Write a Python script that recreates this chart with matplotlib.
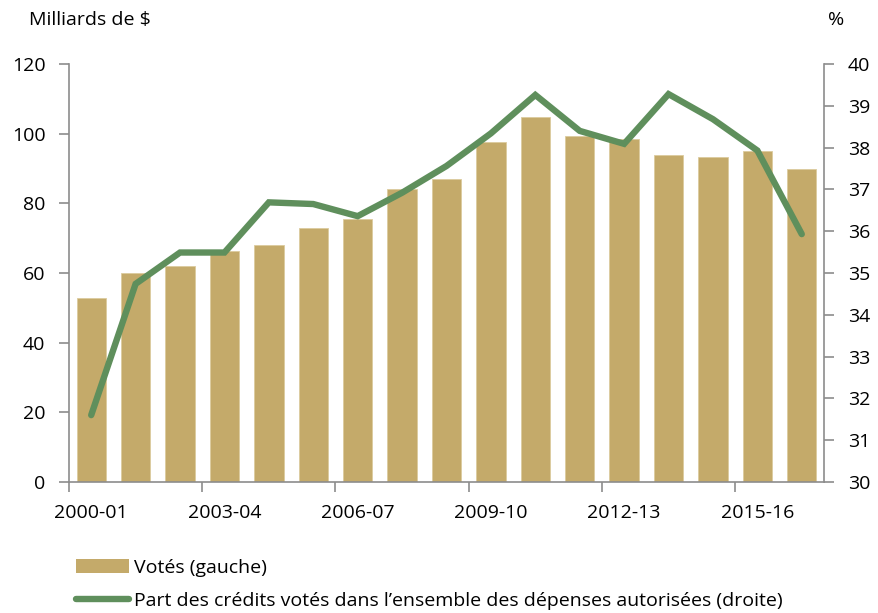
import matplotlib
matplotlib.use("Agg")
import matplotlib.pyplot as plt
import numpy as np
from matplotlib.patches import Patch
from matplotlib.lines import Line2D

years = ["2000-01", "2001-02", "2002-03", "2003-04", "2004-05", "2005-06", "2006-07",
         "2007-08", "2008-09", "2009-10", "2010-11", "2011-12", "2012-13", "2013-14",
         "2014-15", "2015-16", "2016-17"]
votes = [52.7, 59.9, 62.0, 66.3, 67.9, 72.9, 75.6, 84.2, 86.9, 97.6, 104.7, 99.3,
         98.6, 93.8, 93.3, 94.9, 89.8]
share = [31.6, 34.74, 35.49, 35.49, 36.69, 36.65, 36.36, 36.92, 37.56, 38.34, 39.26,
         38.40, 38.09, 39.28, 38.68, 37.93, 35.93]

bar_color = "#C4AA6A"
line_color = "#5F8F5C"
axis_color = "#8C8C8C"
fs = 14
plt.rcParams['font.family'] = ['Open Sans', 'DejaVu Sans']

fig = plt.figure(figsize=(8.79, 6.13), dpi=100)
ax = fig.add_axes([0.0785, 0.2137, 0.8589, 0.6819])
x = np.arange(len(years))
ax.bar(x, votes, width=0.66, color=bar_color, edgecolor="#DCCB9E", linewidth=0.6, zorder=2)
ax.set_xlim(-0.5, len(years) - 0.5)
ax.set_ylim(0, 120)
ax.set_yticks(np.arange(0, 121, 20))
ax.set_xticks(x[::3])
ax.set_xticklabels([years[i] for i in range(0, len(years), 3)])
ax.set_xticks(np.arange(-0.5, len(years), 3), minor=True)
ax.tick_params(axis='x', which='major', length=0, pad=15.5, labelsize=fs)
ax.tick_params(axis='x', which='minor', length=7, color=axis_color, width=1.2, direction='out')
ax.tick_params(axis='y', length=7, color=axis_color, width=1.2, direction='out', labelsize=fs, pad=10)
for s in ['top', 'right']:
    ax.spines[s].set_visible(False)
for s in ['left', 'bottom']:
    ax.spines[s].set_color(axis_color)
    ax.spines[s].set_linewidth(1.2)

ax2 = ax.twinx()
ax2.plot(x, share, color=line_color, linewidth=4.6, solid_capstyle='round', solid_joinstyle='miter', zorder=3)
ax2.set_ylim(30, 40)
ax2.set_yticks(np.arange(30, 41, 1))
ax2.tick_params(axis='y', length=7, color=axis_color, width=1.2, direction='out', labelsize=fs, pad=10)
for s in ['top', 'left', 'bottom']:
    ax2.spines[s].set_visible(False)
ax2.spines['right'].set_color(axis_color)
ax2.spines['right'].set_linewidth(1.2)

fig.text(29 / 879, 1 - 20 / 613, "Milliards de $", fontsize=fs, va='center', ha='left')
fig.text(836 / 879, 1 - 20 / 613, "%", fontsize=fs, va='center', ha='center')

handles = [Patch(facecolor=bar_color, edgecolor='none'),
           Line2D([0], [0], color=line_color, linewidth=4.6, solid_capstyle='round')]
labels = ["Votés (gauche)", "Part des crédits votés dans l’ensemble des dépenses autorisées (droite)"]
fig.legend(handles, labels, loc='upper left', bbox_to_anchor=(76 / 879, 1 - 559 / 613),
           frameon=False, fontsize=fs, handlelength=2.7, handletextpad=0.3,
           labelspacing=0.76, borderaxespad=0, borderpad=0)

fig.savefig("out.png", dpi=100)
